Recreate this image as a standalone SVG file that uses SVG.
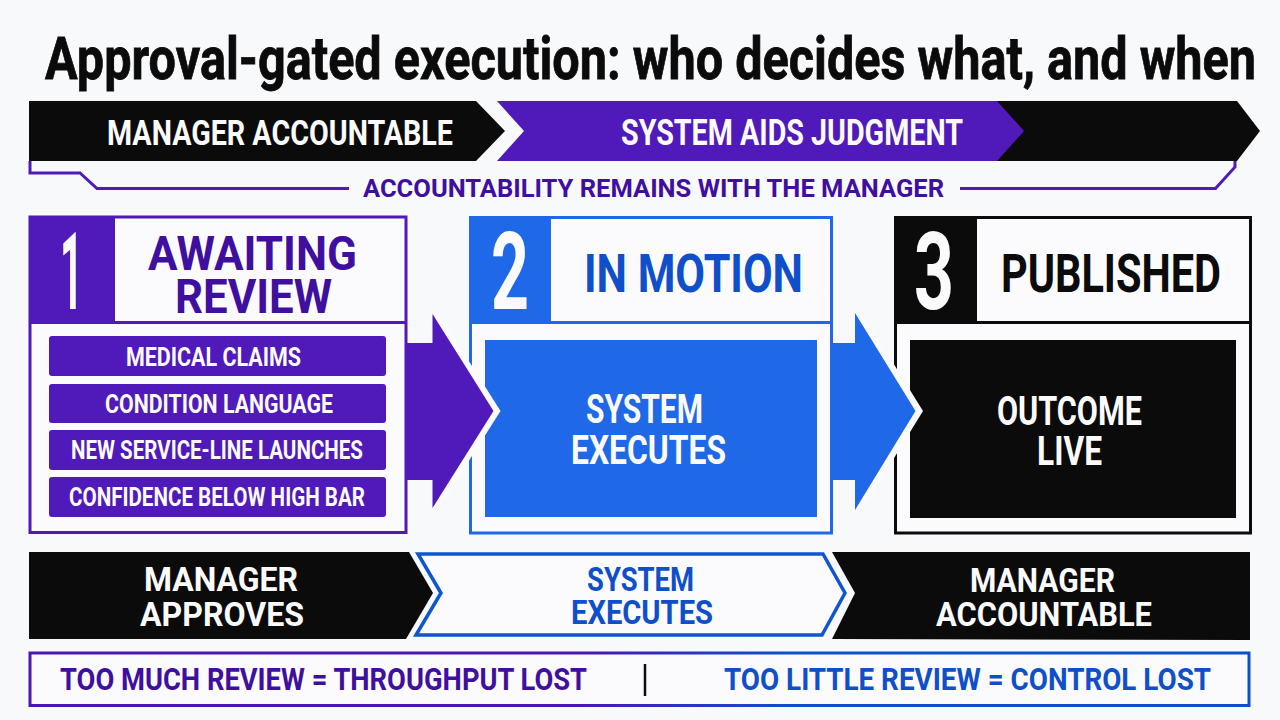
<svg xmlns="http://www.w3.org/2000/svg" width="1280" height="720" viewBox="0 0 1280 720">
<style>
text{font-family:"Roboto","Liberation Sans",sans-serif;font-weight:700;lengthAdjust:spacingAndGlyphs}
.w{fill:#fbfbfd}.p{fill:#3f0fa0}.b{fill:#0f4fc9}.k{fill:#0b0b0b}
.fp{fill:#4f1ab9}.fb{fill:#1f69e8}.fk{fill:#0b0b0b}
.frame{fill:#fbfbfd;stroke-width:3}
</style>
<defs>
<linearGradient id="foot" gradientUnits="userSpaceOnUse" x1="29" y1="0" x2="1250" y2="0">
<stop offset="0.45" stop-color="#4a16b0"/><stop offset="0.62" stop-color="#0f4fc9"/>
</linearGradient>
</defs>
<rect width="1280" height="720" fill="#f8f9fb"/>
<g id="title"><text x="45" y="79" font-size="59" font-weight="900" class="k" stroke="#0b0b0b" stroke-width="0.8" textLength="1211" lengthAdjust="spacingAndGlyphs">Approval-gated execution: who decides what, and when</text></g>

<g id="top-band">
<polygon class="fk" points="29,101 476,101 505,131 476,161 29,161"/>
<polygon class="fk" points="990,101 1237,101 1260,131 1237,161 990,161"/>
<polygon class="fp" points="497,101 997,101 1024,131 997,161 497,161 524,131"/>
<text x="107" y="145" font-size="35" class="w" textLength="346" lengthAdjust="spacingAndGlyphs">MANAGER ACCOUNTABLE</text>
<text x="621" y="145" font-size="36" class="w" textLength="342" lengthAdjust="spacingAndGlyphs">SYSTEM AIDS JUDGMENT</text>
</g>
<g id="accountability">
<path d="M30,161V173H80L97,188.500H349M960,188.500H1215.500L1235,167V161" fill="none" stroke="#4f1ab9" stroke-width="3"/>
<text x="363" y="197" font-size="26.500" class="p" textLength="581" lengthAdjust="spacingAndGlyphs">ACCOUNTABILITY REMAINS WITH THE MANAGER</text>
</g>

<g id="panel-1">
<rect class="frame" x="30" y="217" width="376" height="315.500" stroke="#4f1ab9"/>
<rect class="fp" x="29" y="216" width="86" height="106"/>
<path d="M29,322.500H406" stroke="#4f1ab9" stroke-width="3"/>
<text x="60" y="309" font-size="107" class="w" textLength="23" lengthAdjust="spacingAndGlyphs">1</text>
<text x="148" y="270" font-size="49" class="p" textLength="209" lengthAdjust="spacingAndGlyphs">AWAITING</text>
<text x="175" y="313" font-size="49" class="p" textLength="157" lengthAdjust="spacingAndGlyphs">REVIEW</text>
<rect class="fp" x="49" y="336" width="337" height="40" rx="3"/>
<rect class="fp" x="49" y="384" width="337" height="39" rx="3"/>
<rect class="fp" x="49" y="430" width="337" height="40" rx="3"/>
<rect class="fp" x="49" y="477" width="337" height="40" rx="3"/>
<text x="126" y="366" font-size="25" class="w" textLength="175" lengthAdjust="spacingAndGlyphs">MEDICAL CLAIMS</text>
<text x="105" y="413" font-size="25" class="w" textLength="228" lengthAdjust="spacingAndGlyphs">CONDITION LANGUAGE</text>
<text x="71" y="459" font-size="25" class="w" textLength="292" lengthAdjust="spacingAndGlyphs">NEW SERVICE-LINE LAUNCHES</text>
<text x="69" y="506" font-size="25" class="w" textLength="296" lengthAdjust="spacingAndGlyphs">CONFIDENCE BELOW HIGH BAR</text>
</g>

<g id="panel-2">
<rect class="frame" x="470.500" y="217.500" width="361" height="315.500" stroke="#1f69e8"/>
<rect class="fb" x="469" y="216" width="82" height="106"/>
<path d="M469,322.500H832" stroke="#1f69e8" stroke-width="3"/>
<text x="491" y="309" font-size="107" class="w" textLength="38" lengthAdjust="spacingAndGlyphs">2</text>
<text x="584" y="292" font-size="53" class="b" textLength="219" lengthAdjust="spacingAndGlyphs">IN MOTION</text>
<rect class="fb" x="485" y="340" width="332" height="177"/>
<text x="586" y="423" font-size="40" class="w" textLength="117" lengthAdjust="spacingAndGlyphs">SYSTEM</text>
<text x="571" y="464" font-size="40" class="w" textLength="155" lengthAdjust="spacingAndGlyphs">EXECUTES</text>
</g>

<g id="panel-3">
<rect class="frame" x="895.500" y="217.500" width="355" height="315.500" stroke="#0b0b0b"/>
<rect class="fk" x="894" y="216" width="83" height="106"/>
<path d="M894,322.500H1251" stroke="#0b0b0b" stroke-width="3"/>
<text x="914" y="309" font-size="107" class="w" textLength="40" lengthAdjust="spacingAndGlyphs">3</text>
<text x="1001" y="292" font-size="53" class="k" textLength="220" lengthAdjust="spacingAndGlyphs">PUBLISHED</text>
<rect class="fk" x="910" y="340" width="326" height="178"/>
<text x="997" y="425" font-size="41" class="w" textLength="145" lengthAdjust="spacingAndGlyphs">OUTCOME</text>
<text x="1037" y="465" font-size="41" class="w" textLength="65" lengthAdjust="spacingAndGlyphs">LIVE</text>
</g>

<g id="connectors">
<polygon fill="#fbfbfd" points="439,314 500.500,411 439,508"/>
<polygon class="fp" points="406,343 432.500,343 432.500,314 493.500,411 432.500,508 432.500,480 406,480"/>
<polygon fill="#fbfbfd" points="862,313 923,411 862,510"/>
<polygon class="fb" points="832,343 855,343 855,313 915.500,411 855,510 855,480 832,480"/>
</g>

<g id="phase-1">
<polygon class="fk" points="29,552 409,552 433,593 406,639 29,639"/>
<text x="144" y="591" font-size="34" class="w" textLength="154" lengthAdjust="spacingAndGlyphs">MANAGER</text>
<text x="140" y="626" font-size="34" class="w" textLength="164" lengthAdjust="spacingAndGlyphs">APPROVES</text>
</g>
<g id="phase-2">
<polygon fill="#fbfbfd" stroke="#0f54d0" stroke-width="3.500" points="418,554 823,554 845,593 822,635 416,635 441,593"/>
<text x="587" y="591" font-size="33" class="b" textLength="107" lengthAdjust="spacingAndGlyphs">SYSTEM</text>
<text x="571" y="624" font-size="33" class="b" textLength="142" lengthAdjust="spacingAndGlyphs">EXECUTES</text>
</g>
<g id="phase-3">
<polygon class="fk" points="832,552 1250,552 1250,640 832,639 855,593"/>
<text x="970" y="592" font-size="34" class="w" textLength="145" lengthAdjust="spacingAndGlyphs">MANAGER</text>
<text x="936" y="626" font-size="34" class="w" textLength="216" lengthAdjust="spacingAndGlyphs">ACCOUNTABLE</text>
</g>

<g id="footer">
<rect x="30" y="653" width="1219" height="52.500" fill="#fbfbfd" stroke="url(#foot)" stroke-width="3"/>
<text x="60" y="690" font-size="31" class="p" textLength="527" lengthAdjust="spacingAndGlyphs">TOO MUCH REVIEW = THROUGHPUT LOST</text>
<path d="M645,664V696" stroke="#0b0b0b" stroke-width="2.500"/>
<text x="724" y="690" font-size="31" class="b" textLength="487" lengthAdjust="spacingAndGlyphs">TOO LITTLE REVIEW = CONTROL LOST</text>
</g>
</svg>
